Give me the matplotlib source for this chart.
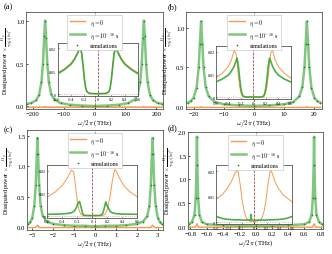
import matplotlib
matplotlib.use("Agg")
import matplotlib.pyplot as plt
import numpy as np

plt.rcParams['font.family'] = 'Liberation Serif'
plt.rcParams['mathtext.fontset'] = 'cm'
plt.rcParams['font.size'] = 4.5

# ---- main curves (eta = 1e-16 s, green) ----
xa = [-220, -205, -190, -180, -172, -167, -163, -160, -157, -153, -148, -140, -130, -110, -80, -40, 0,
      40, 80, 110, 130, 140, 148, 153, 157, 160, 163, 167, 172, 180, 190, 205, 220]
ya = [0.03, 0.04, 0.07, 0.13, 0.28, 0.5, 0.82, 1.0, 0.8, 0.5, 0.28, 0.14, 0.08, 0.04, 0.02, 0.01, 0.005,
      0.01, 0.02, 0.04, 0.08, 0.14, 0.28, 0.5, 0.8, 1.0, 0.82, 0.5, 0.28, 0.13, 0.07, 0.04, 0.03]

xb = [-22, -21, -20, -19, -18.3, -17.9, -17.5, -17.1, -16.7, -16, -15, -13, -10, -5, 0,
      5, 10, 13, 15, 16, 16.7, 17.1, 17.5, 17.9, 18.3, 19, 20, 21, 22]
yb = [0.05, 0.07, 0.11, 0.24, 0.5, 0.8, 1.08, 0.8, 0.5, 0.25, 0.13, 0.06, 0.03, 0.015, 0.01,
      0.015, 0.03, 0.06, 0.13, 0.25, 0.5, 0.8, 1.08, 0.8, 0.5, 0.24, 0.11, 0.07, 0.05]

xc = [-3.2, -3.1, -3.0, -2.9, -2.83, -2.78, -2.75, -2.72, -2.67, -2.6, -2.5, -2.3, -2.0, -1.5, -1.0, -0.5, 0,
      0.5, 1.0, 1.5, 2.0, 2.3, 2.5, 2.6, 2.67, 2.72, 2.75, 2.78, 2.83, 2.9, 3.0, 3.1, 3.2]
yc = [0.05, 0.08, 0.15, 0.35, 0.7, 1.2, 1.47, 1.2, 0.7, 0.35, 0.18, 0.09, 0.05, 0.03, 0.02, 0.02, 0.01,
      0.02, 0.02, 0.03, 0.05, 0.09, 0.18, 0.35, 0.7, 1.2, 1.47, 1.2, 0.7, 0.35, 0.15, 0.08, 0.05]

xd = [-0.82, -0.78, -0.75, -0.735, -0.725, -0.72, -0.715, -0.705, -0.69, -0.66, -0.6, -0.4, -0.2, 0,
      0.2, 0.4, 0.6, 0.66, 0.69, 0.705, 0.715, 0.72, 0.725, 0.735, 0.75, 0.78, 0.82]
yd = [0.05, 0.1, 0.25, 0.6, 1.3, 1.9, 1.3, 0.6, 0.25, 0.1, 0.05, 0.03, 0.02, 0.02,
      0.02, 0.03, 0.05, 0.1, 0.25, 0.6, 1.3, 1.9, 1.3, 0.6, 0.25, 0.1, 0.05]

# ---- main curves (eta = 0, orange) ----
xa0 = [-220, -162, -160, -158, 0, 158, 160, 162, 220]
ya0 = [-0.01, -0.01, 0.0, -0.01, -0.01, -0.01, 0.0, -0.01, -0.01]
xb0 = [-22, -17.8, -17.5, -17.2, 0, 17.2, 17.5, 17.8, 22]
yb0 = [-0.01, -0.01, 0.0, -0.01, -0.01, -0.01, 0.0, -0.01, -0.01]
xc0 = [-3.2, -2.85, -2.75, -2.65, 0, 2.65, 2.75, 2.85, 3.2]
yc0 = [-0.01, -0.01, 0.03, -0.01, -0.01, -0.01, 0.03, -0.01, -0.01]
xd0 = [-0.82, -0.74, -0.72, -0.70, 0, 0.70, 0.72, 0.74, 0.82]
yd0 = [-0.01, -0.01, 0.06, -0.01, -0.01, -0.01, 0.06, -0.01, -0.01]

# ---- inset curves ----
xi = [-0.6, -0.5, -0.4, -0.35, -0.31, -0.28, -0.26, -0.24, -0.22, -0.2, -0.18, -0.16, -0.12, -0.06, 0,
      0.06, 0.12, 0.16, 0.18, 0.2, 0.22, 0.24, 0.26, 0.28, 0.31, 0.35, 0.4, 0.5, 0.6]
ia_or = [0.0092, 0.011, 0.0135, 0.0155, 0.0178, 0.0196, 0.0202, 0.018, 0.0125, 0.0065, 0.0025, 0.0009, 0.0003, 0.0002, 0.0002,
         0.0002, 0.0003, 0.0009, 0.0025, 0.0065, 0.0125, 0.018, 0.0202, 0.0196, 0.0178, 0.0155, 0.0135, 0.011, 0.0092]
ia_gr = [0.0088, 0.0106, 0.013, 0.015, 0.0173, 0.0192, 0.0198, 0.0176, 0.0122, 0.0063, 0.0024, 0.0009, 0.0003, 0.0002, 0.0002,
         0.0002, 0.0003, 0.0009, 0.0024, 0.0063, 0.0122, 0.0176, 0.0198, 0.0192, 0.0173, 0.015, 0.013, 0.0106, 0.0088]
ib_or = [0.0085, 0.0105, 0.0135, 0.0165, 0.0205, 0.0195, 0.015, 0.0095, 0.005, 0.0022, 0.0008, 0.0003, 0.0002, 0.0002, 0.0002,
         0.0002, 0.0002, 0.0003, 0.0008, 0.0022, 0.005, 0.0095, 0.015, 0.0195, 0.0205, 0.0165, 0.0135, 0.0105, 0.0085]
ib_gr = [0.0068, 0.008, 0.0098, 0.0115, 0.0135, 0.0158, 0.0172, 0.0138, 0.0085, 0.004, 0.0015, 0.0005, 0.0002, 0.0002, 0.0002,
         0.0002, 0.0002, 0.0005, 0.0015, 0.004, 0.0085, 0.0138, 0.0172, 0.0158, 0.0135, 0.0115, 0.0098, 0.008, 0.0068]

xi_c = [-0.6, -0.5, -0.4, -0.33, -0.28, -0.25, -0.23, -0.21, -0.19, -0.17, -0.15, -0.13, -0.11, -0.08, 0,
        0.08, 0.11, 0.14, 0.16, 0.18, 0.2, 0.24, 0.27, 0.3, 0.32, 0.36, 0.42, 0.5, 0.6]
ic_or = [0.0085, 0.0105, 0.0135, 0.017, 0.0203, 0.0195, 0.015, 0.009, 0.0045, 0.002, 0.0008, 0.0004, 0.0003, 0.0002, 0.0002,
         0.0002, 0.0002, 0.0003, 0.0006, 0.0012, 0.0028, 0.009, 0.016, 0.0205, 0.0198, 0.017, 0.0135, 0.0108, 0.0085]
ic_gr = [0.0008, 0.0009, 0.001, 0.0012, 0.0015, 0.002, 0.0028, 0.004, 0.0058, 0.0065, 0.004, 0.0012, 0.0004, 0.0003, 0.0003,
         0.0003, 0.0004, 0.0012, 0.0035, 0.0063, 0.0045, 0.002, 0.0015, 0.0012, 0.0011, 0.001, 0.0009, 0.0009, 0.0008]

xi_d = [-0.6, -0.5, -0.42, -0.36, -0.31, -0.27, -0.25, -0.22, -0.19, -0.16, -0.13, -0.1, -0.07, -0.055, -0.05, -0.045, 0,
        0.1, 0.13, 0.16, 0.19, 0.22, 0.25, 0.27, 0.29, 0.33, 0.38, 0.45, 0.52, 0.6]
id_or = [0.009, 0.011, 0.0135, 0.016, 0.019, 0.0205, 0.0195, 0.0145, 0.0085, 0.0045, 0.002, 0.0008, 0.0004, 0.0003, 0.0003, 0.0003, 0.0002,
         0.0008, 0.002, 0.0045, 0.009, 0.015, 0.0195, 0.0205, 0.019, 0.016, 0.0135, 0.011, 0.0095, 0.008]
id_gr = [0.0022, 0.0014, 0.0011, 0.001, 0.0009, 0.0009, 0.0009, 0.0009, 0.0008, 0.0008, 0.0008, 0.0008, 0.0008, 0.0009, 0.003, 0.0009, 0.0007,
         0.0008, 0.0008, 0.0008, 0.0008, 0.0009, 0.0009, 0.0009, 0.0009, 0.001, 0.001, 0.0012, 0.0015, 0.0022]

ORANGE = '#f59a4a'
GREEN = '#2ca02c'
MARK = '#2a8a2a'
GRAY = '#555555'

W, H = 332, 255
fig = plt.figure(figsize=(3.32, 2.55), dpi=100)


def px_axes(l, t, r, b):
    return fig.add_axes([l / W, 1 - b / H, (r - l) / W, (b - t) / H])


def style(ax, fs=4.8):
    for s in ax.spines.values():
        s.set_color(GRAY)
        s.set_linewidth(0.6)
    ax.tick_params(direction='in', length=1.5, width=0.5, labelsize=fs, pad=1.2, colors='black')


ylab = r'Dissipated power $\times\,\frac{\Omega_0}{\gamma_0\mu_0|h_0|^2}$'

panels = [
    dict(box=(26, 13, 163, 110), x=xa, y=ya, x0=xa0, y0=ya0, xlim=(-222, 222), ylim=(-0.03, 1.1),
         xt=[-200, -100, 0, 100, 200], yt=[0, 0.5, 1.0], lab='(a)', lpos=(4, 7),
         ins=(0.23, 0.135, 0.59, 0.55), ix=xi, ior=ia_or, igr=ia_gr),
    dict(box=(186, 13, 322, 110), x=xb, y=yb, x0=xb0, y0=yb0, xlim=(-22.5, 22.5), ylim=(-0.03, 1.2),
         xt=[-20, -10, 0, 10, 20], yt=[0, 0.5, 1.0], lab='(b)', lpos=(168, 7),
         ins=(0.22, 0.10, 0.55, 0.55), ix=xi, ior=ib_or, igr=ib_gr),
    dict(box=(27, 131, 163, 231), x=xc, y=yc, x0=xc0, y0=yc0, xlim=(-3.25, 3.25), ylim=(-0.05, 1.6),
         xt=[-3, -2, -1, 0, 1, 2, 3], yt=[0, 0.5, 1.0, 1.5], lab='(c)', lpos=(4, 130),
         ins=(0.15, 0.12, 0.66, 0.53), ix=xi_c, ior=ic_or, igr=ic_gr),
    dict(box=(188, 133, 323, 230), x=xd, y=yd, x0=xd0, y0=yd0, xlim=(-0.83, 0.83), ylim=(-0.05, 2.0),
         xt=[-0.8, -0.6, -0.4, -0.2, 0, 0.2, 0.4, 0.6, 0.8], yt=[0, 0.5, 1.0, 1.5, 2.0], lab='(d)', lpos=(168, 128),
         ins=(0.21, 0.05, 0.56, 0.61), ix=xi_d, ior=id_or, igr=id_gr),
]

for p in panels:
    ax = px_axes(*p['box'])
    style(ax)
    ax.axhline(0, color='#d08080', lw=0.5, ls=':', zorder=1)
    ax.axvline(0, color='#8b2a2a', lw=0.5, ls='--', zorder=1)
    ax.plot(p['x0'], p['y0'], color=ORANGE, lw=1.0, label=r'$\eta = 0$', zorder=2)
    ax.plot(p['x'], p['y'], color=GREEN, lw=1.8, alpha=0.6, label=r'$\eta = 10^{-16}$ s', zorder=3)
    ax.plot(p['x'], p['y'], ls='none', marker='+', ms=1.8, mew=0.5, color=MARK, label='simulations', zorder=4)
    ax.set_xlim(*p['xlim'])
    ax.set_ylim(*p['ylim'])
    ax.set_xticks(p['xt'])
    ax.set_yticks(p['yt'])
    ax.set_xlabel(r'$\omega/2\pi$ (THz)', fontsize=5, labelpad=1)
    ax.set_ylabel(ylab, fontsize=4.3, labelpad=0.5)
    leg = ax.legend(loc='upper center', fontsize=4.3, frameon=True, handlelength=2.6,
                    borderpad=0.4, labelspacing=0.35, framealpha=1, fancybox=False)
    leg.get_frame().set_edgecolor('#bbbbbb')
    leg.get_frame().set_linewidth(0.4)
    fig.text(p['lpos'][0] / W, 1 - p['lpos'][1] / H, p['lab'], fontsize=6, va='center')

    ia = ax.inset_axes(p['ins'])
    style(ia, fs=3)
    ia.tick_params(length=1, pad=1)
    ia.axhline(0, color='#d08080', lw=0.5, ls=':', zorder=1)
    ia.axvline(0, color='#8b2a2a', lw=0.5, ls='--', zorder=1)
    ia.plot(p['ix'], p['ior'], color=ORANGE, lw=0.7, zorder=2)
    ia.plot(p['ix'], p['igr'], color=GREEN, lw=1.2, alpha=0.85, zorder=3)
    ia.set_xlim(-0.6, 0.6)
    ia.set_ylim(-0.0008, 0.0225)
    ia.set_xticks([-0.6, -0.4, -0.2, 0, 0.2, 0.4, 0.6])
    ia.set_xticklabels(['-0.6', '-0.4', '-0.2', '0', '0.2', '0.4', '0.6'])
    ia.set_yticks([0, 0.01, 0.02])
    ia.set_yticklabels(['0', '0.01', '0.02'])

fig.savefig('out.png', dpi=100)
